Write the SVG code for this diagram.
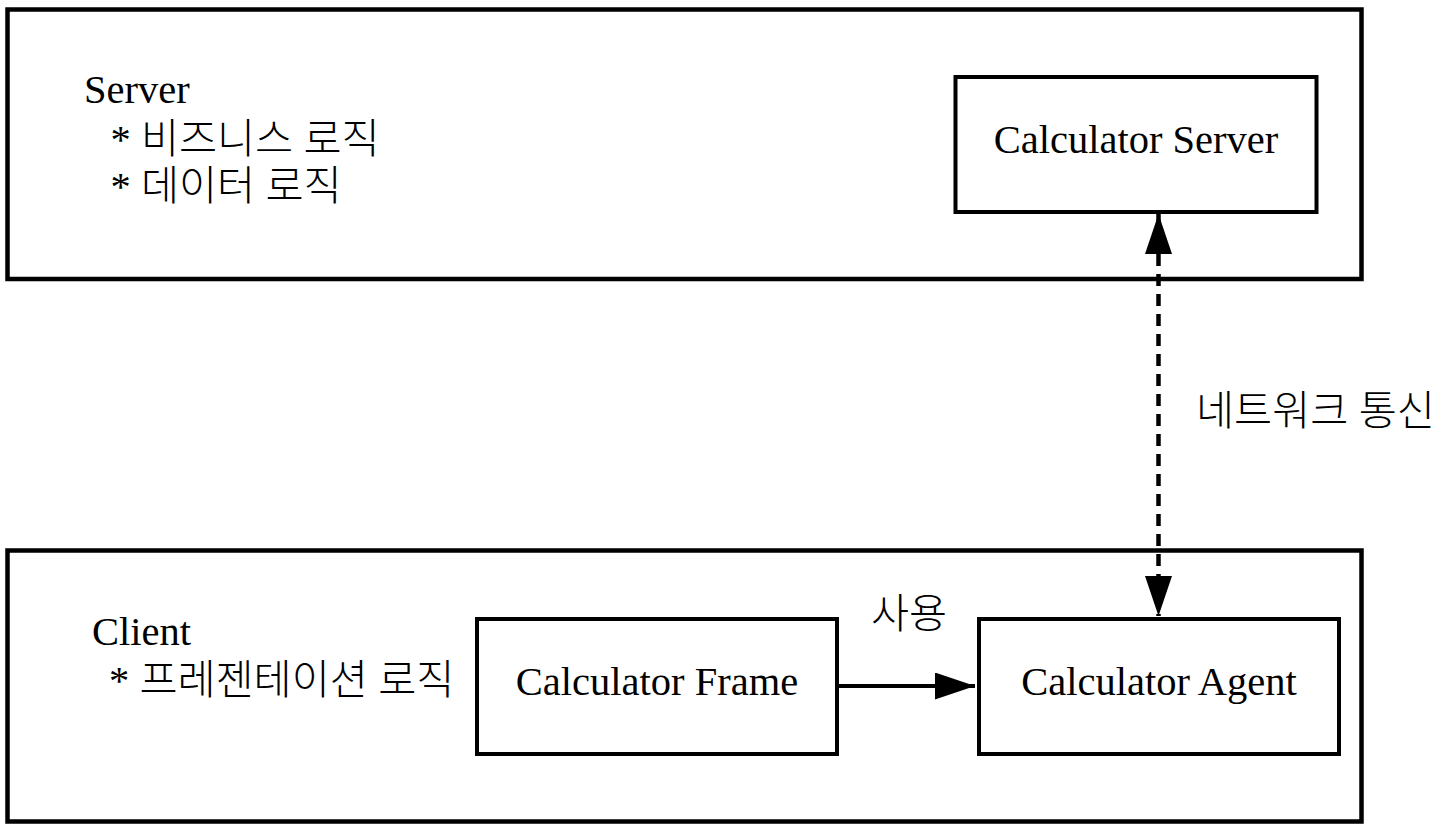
<svg xmlns="http://www.w3.org/2000/svg" width="1446" height="836" viewBox="0 0 1446 836">
<style>
  .outer { fill: #fff; stroke: #000; stroke-width: 4.5; }
  .box { fill: #fff; stroke: #000; stroke-width: 4; }
  .t { font-family: "Liberation Serif", "Noto Sans CJK KR", serif; font-size: 40.5px; fill: #000; }
  .k { font-family: "Liberation Serif", "Noto Sans CJK KR", sans-serif; font-size: 41.4px; font-weight: 300; }
  .c { text-anchor: middle; }
  .line { stroke: #000; stroke-width: 4; fill: none; }
  .dash { stroke-width: 4.5; stroke-dasharray: 12 8; }
</style>
<defs>
  <marker id="arrow" markerUnits="userSpaceOnUse" markerWidth="42" markerHeight="28" refX="40" refY="13.5" orient="auto-start-reverse" viewBox="0 0 42 28">
    <path d="M0,0 L40,13.5 L0,27 Z" fill="#000"/>
  </marker>
</defs>
<rect width="1446" height="836" fill="#fff"/>
<g id="server-tier">
  <rect class="outer" x="7.5" y="9.5" width="1354" height="269.5"/>
  <text class="t" x="84" y="103">Server</text>
  <text class="t" x="110.5" y="153">* <tspan class="k">비즈니스 로직</tspan></text>
  <text class="t" x="110.5" y="199.5">* <tspan class="k">데이터 로직</tspan></text>
</g>
<g id="client-tier">
  <rect class="outer" x="7.5" y="550.5" width="1354" height="271"/>
  <text class="t" x="92" y="645">Client</text>
  <text class="t" x="109" y="694">* <tspan class="k">프레젠테이션 로직</tspan></text>
</g>
<g id="calculator-server">
  <rect class="box" x="955.5" y="77" width="361" height="135"/>
  <text class="t c" x="1136" y="152.5">Calculator Server</text>
</g>
<g id="calculator-frame">
  <rect class="box" x="477" y="619" width="360" height="135"/>
  <text class="t c" x="657" y="694.5">Calculator Frame</text>
</g>
<g id="calculator-agent">
  <rect class="box" x="979" y="619" width="360" height="135"/>
  <text class="t c" x="1159" y="694.5">Calculator Agent</text>
</g>
<g id="connectors">
  <line class="line" x1="839" y1="686" x2="975" y2="686" marker-end="url(#arrow)"/>
  <line class="line dash" x1="1158.5" y1="214" x2="1158.5" y2="616" marker-start="url(#arrow)" marker-end="url(#arrow)"/>
  <text class="t k" x="871" y="628">사용</text>
  <text class="t k" x="1196" y="424.5">네트워크 통신</text>
</g>
</svg>
